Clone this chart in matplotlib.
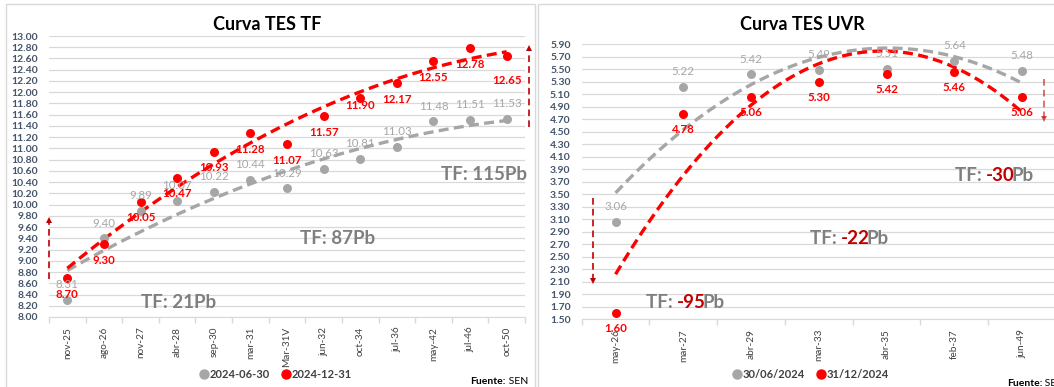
import numpy as np
import matplotlib
matplotlib.use("Agg")
import matplotlib.pyplot as plt
from matplotlib.lines import Line2D
from matplotlib.patches import Rectangle

plt.rcParams['font.family'] = ['Lato', 'DejaVu Sans']

# ---------------- data ----------------
tf_labels = ['nov-25', 'ago-26', 'nov-27', 'abr-28', 'sep-30', 'mar-31', 'Mar-31V',
             'jun-32', 'oct-34', 'jul-36', 'may-42', 'jul-46', 'oct-50']
tf_jun = [8.31, 9.40, 9.89, 10.07, 10.22, 10.44, 10.29, 10.63, 10.81, 11.03, 11.48, 11.51, 11.53]
tf_dec = [8.70, 9.30, 10.05, 10.47, 10.93, 11.28, 11.07, 11.57, 11.90, 12.17, 12.55, 12.78, 12.65]
tf_legend = ['2024-06-30', '2024-12-31']

uvr_labels = ['may-26', 'mar-27', 'abr-29', 'mar-33', 'abr-35', 'feb-37', 'jun-49']
uvr_jun = [3.06, 5.22, 5.42, 5.49, 5.51, 5.64, 5.48]
uvr_dec = [1.60, 4.78, 5.06, 5.30, 5.42, 5.46, 5.06]
uvr_legend = ['30/06/2024', '31/12/2024']

tf_title = 'Curva TES TF'
uvr_title = 'Curva TES UVR'

# ---------------- styles ----------------
RED = '#FF0000'
GRAY = '#A6A6A6'
DARKRED = '#C00000'
TXTGRAY = '#7F7F7F'
TICKCOL = '#44546A'
GRID = '#D9D9D9'

W, H = 1054, 387
fig = plt.figure(figsize=(W / 100, H / 100), dpi=100)

# panel borders
for (x0, x1) in [(6, 535), (538, 1062)]:
    fig.add_artist(Rectangle((x0 / W, -0.02), (x1 - x0) / W, 1 - 4 / H + 0.02,
                             transform=fig.transFigure, fill=False,
                             edgecolor=GRID, lw=1.0))


def px_ax(x0, x1, ybot, ytop):
    return fig.add_axes([x0 / W, 1 - ybot / H, (x1 - x0) / W, (ybot - ytop) / H])


def draw_panel(ax, labels, s_jun, s_dec, ylo, yhi, red_offsets):
    n = len(labels)
    x = np.arange(1, n + 1)
    ax.set_xlim(0.5, n + 0.5)
    ax.set_ylim(ylo, yhi)
    yt = np.round(np.arange(ylo, yhi + 1e-6, 0.2), 2)
    ax.set_yticks(yt)
    ax.set_yticklabels([f'{v:.2f}' for v in yt], fontsize=7.5, fontweight='bold',
                       color=TICKCOL)
    ax.set_xticks(x)
    ax.set_xticklabels(labels, rotation=90, fontsize=7.2, color='#404040')
    ax.set_xticks(np.arange(0.5, n + 1, 1), minor=True)
    ax.tick_params(axis='x', which='major', length=0, pad=7)
    ax.tick_params(axis='x', which='minor', length=4, color=GRID, width=1)
    ax.tick_params(axis='y', length=0, pad=8)
    for s in ['left', 'right', 'top']:
        ax.spines[s].set_visible(False)
    ax.spines['bottom'].set_color(GRID)
    ax.grid(axis='y', color=GRID, lw=0.9)
    ax.set_axisbelow(True)

    xf = np.linspace(1, n, 300)
    for ser, col in [(s_jun, GRAY), (s_dec, RED)]:
        c = np.polyfit(x, ser, 2)
        ax.plot(xf, np.polyval(c, xf), color=col, lw=2.4,
                linestyle=(0, (3.0, 1.6)), zorder=3)
    ax.scatter(x, s_jun, s=42, color=GRAY, zorder=4, linewidths=0)
    ax.scatter(x, s_dec, s=42, color=RED, zorder=5, linewidths=0)

    for xi, v in zip(x, s_jun):
        ax.annotate(f'{v:.2f}', (xi, v), xytext=(0, 11), textcoords='offset points',
                    ha='center', va='center', fontsize=8.3, color=GRAY, zorder=6,
                    annotation_clip=False)
    for xi, v, off in zip(x, s_dec, red_offsets):
        ax.annotate(f'{v:.2f}', (xi, v), xytext=(0, off), textcoords='offset points',
                    ha='center', va='center', fontsize=8.3, color=RED,
                    fontweight='bold', zorder=6, annotation_clip=False)


def tf_text(ax, x, y, num, numcol):
    if numcol == TXTGRAY:
        ax.text(x, y, f'TF: {num}Pb', fontsize=13.5, fontweight='bold', color=TXTGRAY,
                ha='left', va='center', zorder=7)
        return
    t1 = ax.text(x, y, 'TF: ', fontsize=13.5, fontweight='bold', color=TXTGRAY,
                 ha='left', va='center', zorder=7)
    t2 = ax.annotate(num, xy=(1, 0), xycoords=t1, fontsize=13.5, fontweight='bold',
                     color=numcol, ha='left', va='bottom', zorder=7)
    ax.annotate('Pb', xy=(1, 0), xycoords=t2, xytext=(-2.5, 0),
                textcoords='offset points', fontsize=13.5, fontweight='bold',
                color=TXTGRAY, ha='left', va='bottom', zorder=7)


def varrow(ax, x, y0, y1, color, alpha=1.0):
    ax.plot([x, x], [y0, y1], color=color, lw=1.2, linestyle=(0, (4, 2.5)),
            clip_on=False, alpha=alpha, zorder=6)
    ax.plot([x], [y1], marker='^' if y1 > y0 else 'v', color=color, ms=5,
            clip_on=False, alpha=alpha, zorder=6, markeredgewidth=0)


# ---------------- left panel ----------------
axL = px_ax(49, 525, 317, 36)
red_off_tf = [-12, -12, -11.5, -11, -11, -12, -11.5, -11.5, -5.5, -12, -11.5, -11.5, -18]
draw_panel(axL, tf_labels, tf_jun, tf_dec, 8.0, 13.0, red_off_tf)
tf_text(axL, 3.0, 8.25, '21', TXTGRAY)
tf_text(axL, 7.35, 9.40, '87', TXTGRAY)
tf_text(axL, 11.2, 10.53, '115', TXTGRAY)
varrow(axL, 0.5, 8.68, 9.72, DARKRED)
varrow(axL, 13.61, 11.38, 12.78, DARKRED)

# ---------------- right panel ----------------
axR = px_ax(581.7, 1056, 319.3, 44.3)
red_off_uvr = [-11.2] * len(uvr_dec)
draw_panel(axR, uvr_labels, uvr_jun, uvr_dec, 1.5, 5.9, red_off_uvr)
tf_text(axR, 1.45, 1.77, '-95', DARKRED)
tf_text(axR, 3.87, 2.80, '-22', DARKRED)
tf_text(axR, 6.01, 3.80, '-30', DARKRED)
varrow(axR, 0.67, 3.44, 2.12, DARKRED)
varrow(axR, 7.33, 5.34, 4.70, DARKRED, alpha=0.65)

# ---------------- titles ----------------
fig.text(267 / W, 1 - 25 / H, tf_title, ha='center', va='center', fontsize=13,
         fontweight='bold', color='black')
fig.text(802 / W, 1 - 25 / H, uvr_title, ha='center', va='center', fontsize=13,
         fontweight='bold', color='black')


# ---------------- legends ----------------
def legend(cx, names):
    handles = [Line2D([], [], ls='none', marker='o', color=GRAY, ms=6.5),
               Line2D([], [], ls='none', marker='o', color=RED, ms=6.5)]
    fig.legend(handles, names, loc='center', bbox_to_anchor=(cx / W, 1 - 374 / H),
               ncol=2, frameon=False, handletextpad=0.05,
               columnspacing=0.9, handlelength=1.0, labelcolor='#404040',
               prop={'weight': 'bold', 'size': 8})


legend(275, tf_legend)
legend(810, uvr_legend)


# ---------------- source ----------------
def fuente(x, ha):
    if ha == 'right':
        t2 = fig.text(x / W, 1 - 382 / H, ' SEN', ha='right', va='center', fontsize=7.5,
                      color='black')
        fig.add_artist(plt.Annotation('Fuente:', xy=(0, 0), xycoords=t2, ha='right',
                                      va='bottom', fontsize=7.5, fontweight='bold',
                                      color='black'))
    else:
        t1 = fig.text(x / W, 1 - 383 / H, 'Fuente:', ha='left', va='center',
                      fontsize=7.5, fontweight='bold', color='black')
        fig.add_artist(plt.Annotation(' SEN', xy=(1, 0), xycoords=t1, ha='left',
                                      va='bottom', fontsize=7.5, color='black'))


fuente(528, 'right')
fuente(1007, 'left')

fig.savefig('out.png', dpi=100)
